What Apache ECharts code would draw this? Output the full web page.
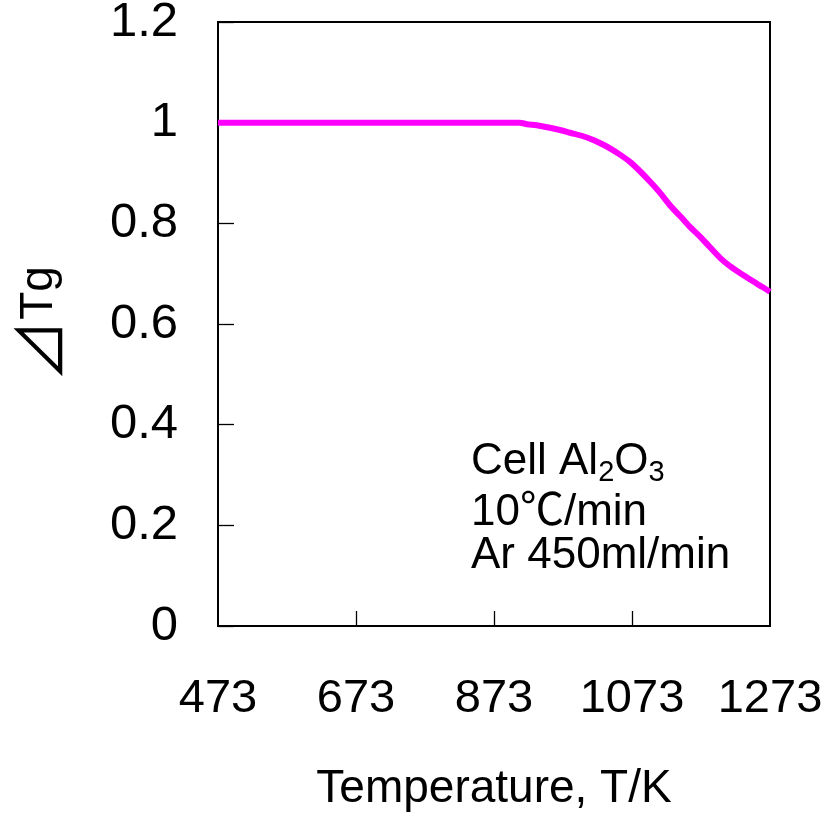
<!DOCTYPE html>
<html>
<head>
<meta charset="utf-8">
<script src="https://cdn.jsdelivr.net/npm/echarts@6/dist/echarts.min.js"></script>
<style>
  html, body { margin: 0; padding: 0; background: #fff; }
  #chart { width: 825px; height: 817px; }
</style>
</head>
<body>
<div id="chart"></div>
<script>
// Temperature (K) and relative weight ΔTg of the sample
const temperatures = [473, 600, 700, 800, 880, 910, 921, 935, 954, 970, 983, 1000, 1016, 1030, 1041, 1055, 1070, 1085, 1099, 1114, 1128, 1143, 1157, 1172, 1185, 1201, 1215, 1230, 1245, 1255, 1265, 1273];
const deltaTg = [1.000, 1.000, 1.000, 1.000, 1.000, 1.000, 0.997, 0.995, 0.990, 0.985, 0.980, 0.974, 0.966, 0.957, 0.949, 0.937, 0.922, 0.903, 0.883, 0.860, 0.836, 0.814, 0.793, 0.773, 0.754, 0.731, 0.715, 0.701, 0.688, 0.679, 0.671, 0.664];

// Axis ticks and labels
const xLabelValues = [473, 673, 873, 1073, 1273];
const xTickValues = [673, 873, 1073];
const yTicks = [0, 0.2, 0.4, 0.6, 0.8, 1.0, 1.2];

// Experimental conditions
const cellParts = [['Cell Al', false], ['2', true], ['O', false], ['3', true]];
const rateText = '10℃/min';
const gasText = 'Ar 450ml/min';

const FONT = "'Liberation Sans', Arial, 'Noto Sans CJK JP', sans-serif";
const MAIN_SIZE = 44;
const SUB_SIZE = 29;

// Lay out "Cell Al2O3" piece by piece so the digits sit below the baseline
const measureCtx = document.createElement('canvas').getContext('2d');
function textWidth(str, size) {
  measureCtx.font = size + 'px ' + FONT;
  return measureCtx.measureText(str).width;
}
const noteLeft = 471;
const noteTop = 440;
const cellGraphics = [];
let cursor = noteLeft;
cellParts.forEach(([str, isSub]) => {
  const size = isSub ? SUB_SIZE : MAIN_SIZE;
  cellGraphics.push({
    type: 'text',
    x: cursor,
    y: isSub ? noteTop + 33 : noteTop + MAIN_SIZE / 2,
    style: { text: str, font: size + 'px ' + FONT, fill: '#000', verticalAlign: 'middle', align: 'left' }
  });
  cursor += textWidth(str, size);
});

const chart = echarts.init(document.getElementById('chart'), null, { renderer: 'canvas' });

chart.setOption({
  animation: false,
  backgroundColor: '#ffffff',
  grid: {
    left: 218, right: 55, top: 22, bottom: 191,
    outerBoundsMode: 'none',
    containLabel: false,
    show: true, borderColor: '#000', borderWidth: 2, backgroundColor: 'transparent'
  },
  xAxis: {
    type: 'value',
    min: xLabelValues[0],
    max: xLabelValues[xLabelValues.length - 1],
    name: 'Temperature, T/K',
    nameLocation: 'middle',
    nameGap: 140,
    nameTextStyle: { fontFamily: FONT, fontSize: 46, color: '#000' },
    axisLine: { show: true, lineStyle: { color: '#000', width: 2 } },
    axisTick: {
      show: true, inside: true, length: 15,
      customValues: xTickValues,
      lineStyle: { color: '#000', width: 1.3 }
    },
    axisLabel: {
      customValues: xLabelValues,
      formatter: (v) => String(v),
      margin: 50,
      fontFamily: FONT, fontSize: 47, color: '#000'
    },
    splitLine: { show: false }
  },
  yAxis: {
    type: 'value',
    min: yTicks[0],
    max: yTicks[yTicks.length - 1],
    interval: 0.2,
    name: '{tri|⊿}{tg|Tg}',
    nameLocation: 'middle',
    nameGap: 148,
    nameRotate: 90,
    nameTextStyle: {
      color: '#000',
      rich: {
        tri: { fontFamily: "'Noto Sans CJK JP', sans-serif", fontSize: 62, color: '#000' },
        tg: { fontFamily: FONT, fontSize: 46, color: '#000' }
      }
    },
    axisLine: { show: true, lineStyle: { color: '#000', width: 2 } },
    axisTick: { show: true, inside: true, length: 16, lineStyle: { color: '#000', width: 1.3 } },
    axisLabel: { margin: 40, fontFamily: FONT, fontSize: 49, color: '#000' },
    splitLine: { show: false }
  },
  series: [{
    type: 'line',
    data: temperatures.map((t, i) => [t, deltaTg[i]]),
    showSymbol: false,
    smooth: 0.3,
    lineStyle: { color: '#ff00ff', width: 6 },
    itemStyle: { color: '#ff00ff' }
  }],
  graphic: cellGraphics.concat([
    {
      type: 'text', left: noteLeft, top: 491,
      style: { text: rateText, font: MAIN_SIZE + 'px ' + FONT, fill: '#000' }
    },
    {
      type: 'text', left: noteLeft, top: 534,
      style: { text: gasText, font: MAIN_SIZE + 'px ' + FONT, fill: '#000' }
    }
  ])
});
</script>
</body>
</html>
